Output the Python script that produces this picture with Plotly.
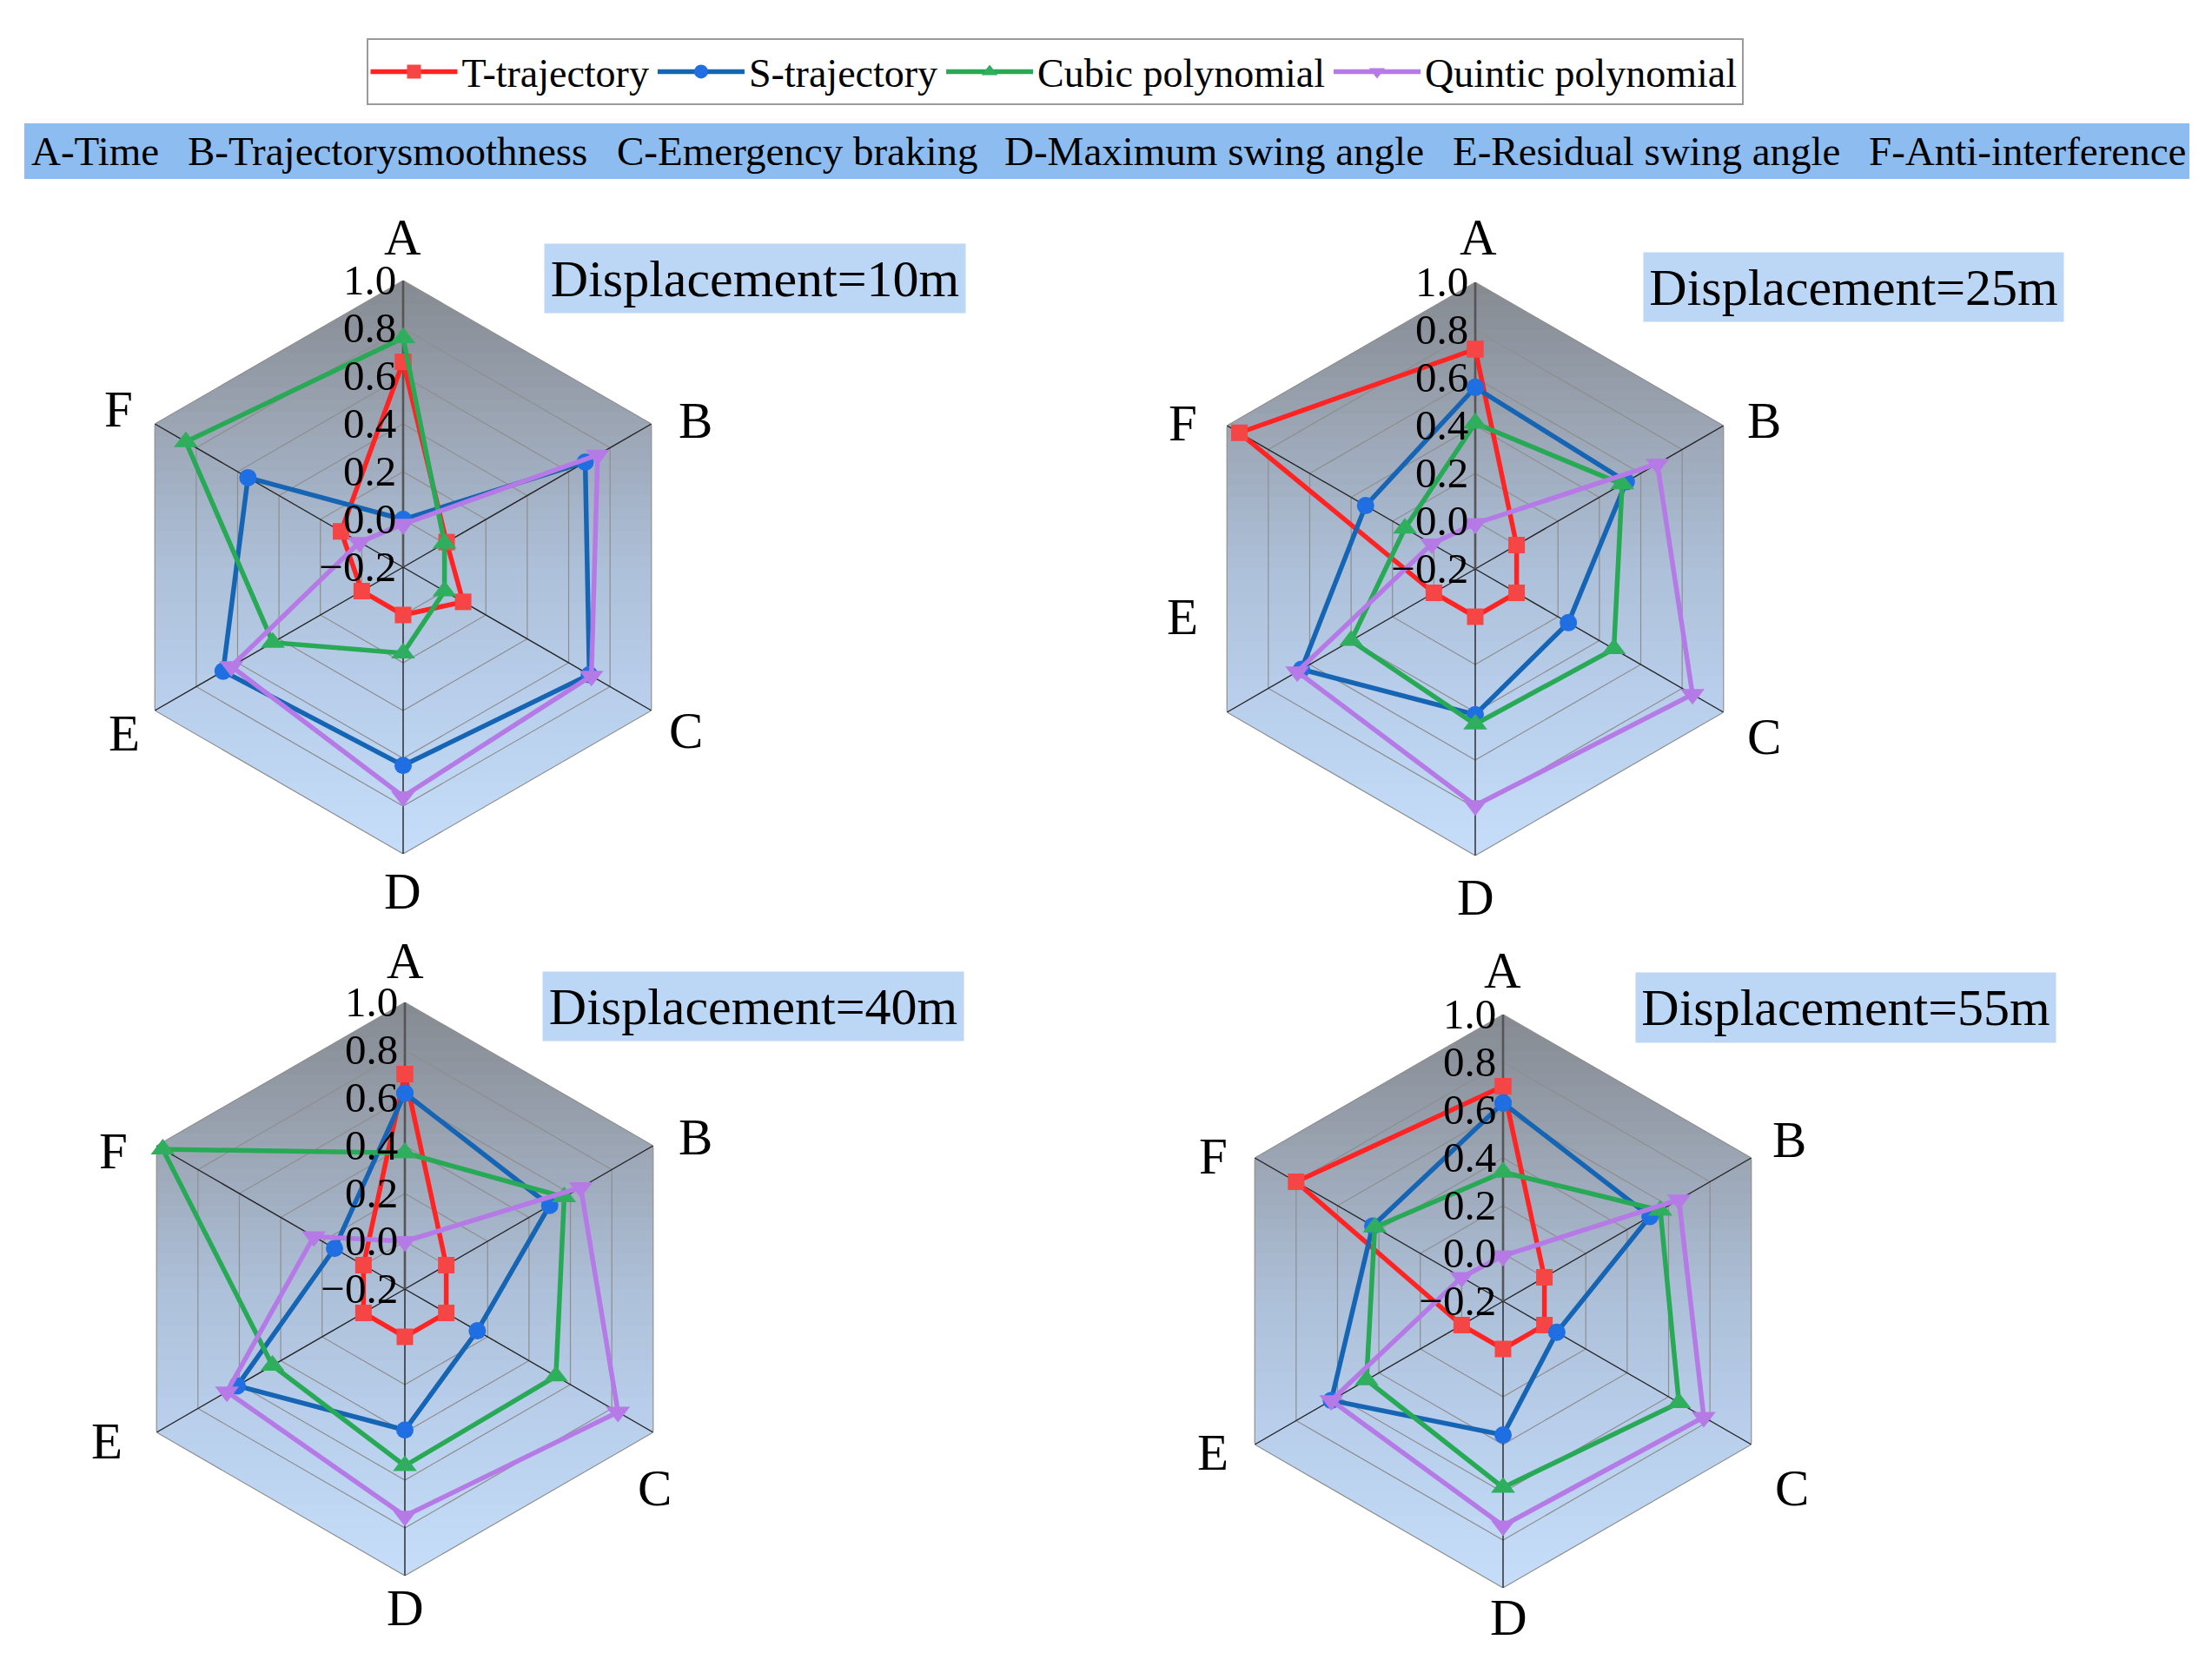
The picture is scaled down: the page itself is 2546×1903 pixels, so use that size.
import math
import plotly.graph_objects as go

# ---------------- data ----------------
axes_labels = ["A", "B", "C", "D", "E", "F"]
axis_angles = [0, 60, 120, 180, 240, 300]
series_names = ["T-trajectory", "S-trajectory", "Cubic polynomial", "Quintic polynomial"]
panel_titles = ["Displacement=10m", "Displacement=25m", "Displacement=40m", "Displacement=55m"]
criteria_labels = ["A-Time", "B-Trajectorysmoothness", "C-Emergency braking",
                   "D-Maximum swing angle", "E-Residual swing angle", "F-Anti-interference"]
radial_ticks = [-0.2, 0.0, 0.2, 0.4, 0.6, 0.8, 1.0]
radial_ticktext = ["\u22120.2", "0.0", "0.2", "0.4", "0.6", "0.8", "1.0"]

d10_T = [0.66, 0.01, 0.09, 0.00, 0.00, 0.10]
d10_S = [0.00, 0.68, 0.70, 0.63, 0.67, 0.55]
d10_C = [0.76, 0.00, 0.00, 0.16, 0.43, 0.85]
d10_Q = [-0.02, 0.74, 0.71, 0.76, 0.63, 0.01]

d25_T = [0.72, 0.00, 0.00, 0.00, 0.00, 0.94]
d25_S = [0.56, 0.53, 0.25, 0.41, 0.64, 0.33]
d25_C = [0.41, 0.51, 0.47, 0.45, 0.40, 0.14]
d25_Q = [-0.01, 0.68, 0.85, 0.79, 0.66, 0.01]

d40_T = [0.70, 0.00, 0.00, 0.00, 0.00, 0.00]
d40_S = [0.62, 0.50, 0.15, 0.39, 0.61, 0.14]
d40_C = [0.37, 0.57, 0.53, 0.54, 0.44, 0.97]
d40_Q = [0.00, 0.65, 0.83, 0.75, 0.66, 0.24]

d55_T = [0.70, 0.00, 0.00, 0.00, 0.00, 0.80]
d55_S = [0.63, 0.51, 0.06, 0.36, 0.63, 0.43]
d55_C = [0.34, 0.56, 0.65, 0.58, 0.46, 0.42]
d55_Q = [-0.01, 0.65, 0.77, 0.74, 0.63, 0.00]

panels = [
    [d10_T, d10_S, d10_C, d10_Q],
    [d25_T, d25_S, d25_C, d25_Q],
    [d40_T, d40_S, d40_C, d40_Q],
    [d55_T, d55_S, d55_C, d55_Q],
]

# ---------------- styles / layout ----------------
W, H = 2546, 1903
R = 330
centers = [(464, 653), (1698, 655), (466, 1484), (1730, 1498)]
title_boxes = [(627, 1111, 281, 360), (1892, 2375, 291, 370),
               (625, 1109, 1119, 1198), (1883, 2366, 1120, 1200)]
crit_centers = [109, 446, 917, 1397, 1895, 2333]
# pixel positions of the A..F axis labels in each panel (as placed in the original figure)
axis_label_pos = [
    [(463, 273), (800, 484), (789, 841), (463, 1026), (143, 844), (136, 471)],
    [(1702, 273), (2031, 484), (2031, 848), (1698, 1033), (1361, 710), (1361, 487)],
    [(466, 1106), (800, 1309), (753, 1713), (466, 1851), (123, 1659), (130, 1325)],
    [(1729, 1117), (2059, 1312), (2062, 1713), (1737, 1862), (1396, 1672), (1396, 1331)],
]

line_colors = ["#ff2424", "#1565b4", "#27a955", "#b57ae6"]
marker_colors = ["#f54545", "#1f6fe2", "#2fae5e", "#b57ae6"]
symbols = ["square", "circle", "triangle-up", "triangle-down"]
msizes = [19, 20, 24, 24]
SERIF = "Liberation Serif"

RMIN, RMAX = radial_ticks[0], radial_ticks[-1]
SPAN = RMAX - RMIN

grad_stops = [(1.0, (134, 138, 145)), (0.5, (155, 165, 180)), (0.0, (173, 192, 217)),
              (-0.5, (186, 208, 237)), (-1.0, (198, 222, 249))]


def grad_color(y):
    for (ya, ca), (yb, cb) in zip(grad_stops[:-1], grad_stops[1:]):
        if yb <= y <= ya:
            t = (ya - y) / (ya - yb)
            c = [round(ca[i] + (cb[i] - ca[i]) * t) for i in range(3)]
            return "rgb(%d,%d,%d)" % tuple(c)
    return "rgb(%d,%d,%d)" % grad_stops[-1][1]


def half_w(y):
    ay = abs(y)
    return math.sqrt(3) / 2 if ay <= 0.5 else math.sqrt(3) * (1 - ay)


def to_polar(x, y):
    rho = math.hypot(x, y)
    th = (90 - math.degrees(math.atan2(y, x))) % 360
    return RMIN + SPAN * rho, th


def band(y0, y1):
    ys = [y0] + [v for v in (-0.5, 0.5) if y0 < v < y1] + [y1]
    pts = [(half_w(y), y) for y in ys] + [(-half_w(y), y) for y in reversed(ys)]
    pts.append(pts[0])
    rs, ts = zip(*[to_polar(x, y) for x, y in pts])
    return list(rs), list(ts)


fig = go.Figure()
NB = 48
for p, (cx, cy) in enumerate(centers):
    sp = "polar" if p == 0 else "polar%d" % (p + 1)
    # background gradient (hexagon)
    for k in range(NB):
        y0 = -1 + 2 * k / NB
        y1 = min(1.0, y0 + 2 / NB + 0.004)
        rs, ts = band(y0, y1)
        fig.add_trace(go.Scatterpolar(r=rs, theta=ts, mode="lines", fill="toself",
                                      fillcolor=grad_color((y0 + y1) / 2),
                                      line=dict(width=0, color="rgba(0,0,0,0)"),
                                      hoverinfo="skip", showlegend=False, subplot=sp))
    # hexagonal grid rings
    rr, tt = [], []
    for rv in radial_ticks[1:]:
        rr += [rv] * 7 + [None]
        tt += axis_angles + [360, None]
    fig.add_trace(go.Scatterpolar(r=rr, theta=tt, mode="lines",
                                  line=dict(width=1.2, color="#8e8e8e"),
                                  hoverinfo="skip", showlegend=False, subplot=sp))
    # spokes
    rr, tt = [], []
    for a in axis_angles[1:]:
        rr += [RMIN, RMAX, None]
        tt += [a, a, None]
    fig.add_trace(go.Scatterpolar(r=rr, theta=tt, mode="lines",
                                  line=dict(width=1.4, color="#222222"),
                                  hoverinfo="skip", showlegend=False, subplot=sp))
    fig.add_trace(go.Scatterpolar(r=[RMIN, RMAX], theta=[0, 0], mode="lines",
                                  line=dict(width=2.6, color="#555555"),
                                  hoverinfo="skip", showlegend=False, subplot=sp))
    # data
    for s, vals in enumerate(panels[p]):
        fig.add_trace(go.Scatterpolar(
            r=vals + vals[:1], theta=axis_angles + [360], mode="lines+markers",
            name=series_names[s], legendgroup=series_names[s], showlegend=(p == 0),
            line=dict(color=line_colors[s], width=5.5),
            marker=dict(symbol=symbols[s], size=msizes[s], color=marker_colors[s]),
            subplot=sp))

    fig.layout[sp] = dict(
        domain=dict(x=[(cx - R) / W, (cx + R) / W], y=[1 - (cy + R) / H, 1 - (cy - R) / H]),
        bgcolor="rgba(0,0,0,0)",
        angularaxis=dict(rotation=90, direction="clockwise", thetaunit="degrees",
                         tickmode="array", tickvals=axis_angles, ticktext=axes_labels,
                         showgrid=False, showline=False, ticks="", showticklabels=False),
        radialaxis=dict(range=[RMIN, RMAX], angle=90, side="counterclockwise",
                        tickmode="array", tickvals=radial_ticks, ticktext=radial_ticktext,
                        showgrid=False, showline=False, ticks="", tickangle=90,
                        tickfont=dict(family=SERIF, size=49, color="black")),
    )
    # axis category labels A..F
    for lab, (lx, ly) in zip(axes_labels, axis_label_pos[p]):
        fig.add_annotation(xref="paper", yref="paper", x=lx / W, y=1 - ly / H,
                           xanchor="center", yanchor="middle", text=lab, showarrow=False,
                           font=dict(family=SERIF, size=59, color="black"))
    x0, x1, ya, yb = title_boxes[p]
    fig.add_annotation(xref="paper", yref="paper", x=(x0 + x1) / 2 / W, y=1 - (ya + yb) / 2 / H,
                       xanchor="center", yanchor="middle", text=panel_titles[p],
                       showarrow=False, bgcolor="#bcd6f5", width=x1 - x0, height=yb - ya,
                       borderpad=0, font=dict(family=SERIF, size=60, color="black"))

# criteria band
fig.add_shape(type="rect", xref="paper", yref="paper", x0=28 / W, x1=2520 / W,
              y0=1 - 206 / H, y1=1 - 142 / H, fillcolor="#8dbdf0", line=dict(width=0),
              layer="below")
for c, lab in zip(crit_centers, criteria_labels):
    fig.add_annotation(xref="paper", yref="paper", x=c / W, y=1 - 174 / H,
                       xanchor="center", yanchor="middle", text=lab, showarrow=False,
                       font=dict(family=SERIF, size=47, color="black"))

fig.update_layout(
    width=W, height=H, margin=dict(l=0, r=0, t=0, b=0),
    paper_bgcolor="white", plot_bgcolor="white",
    font=dict(family=SERIF, color="black"),
    legend=dict(orientation="h", x=1214 / W, xanchor="center", y=1 - 44 / H, yanchor="top",
                font=dict(family=SERIF, size=46, color="black"),
                bgcolor="white", bordercolor="#9a9a9a", borderwidth=2,
                itemwidth=100, tracegroupgap=0),
)

fig.write_html("out.html", config={"displayModeBar": False},
               post_script="document.body.style.margin='0';document.body.style.overflow='hidden';")
